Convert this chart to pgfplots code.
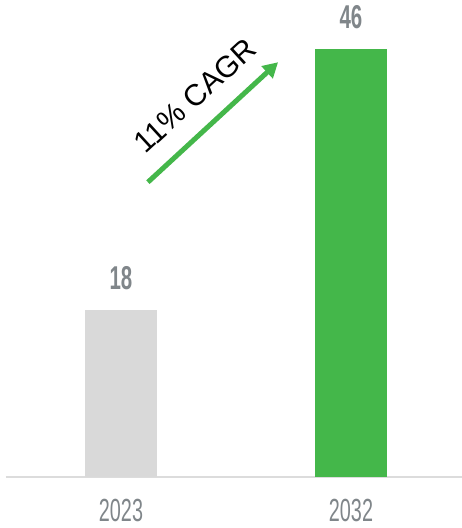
\documentclass[border=0pt]{standalone}
\usepackage{fontspec}
\setmainfont{Liberation Sans}
\newfontfamily\condfont[FakeStretch=0.62]{Liberation Sans}
\usepackage{pgfplots}
\usetikzlibrary{arrows.meta}
\pgfplotsset{compat=1.18}
\definecolor{bargray}{HTML}{D9D9D9}
\definecolor{bargreen}{HTML}{44B74A}
\definecolor{txtgray}{HTML}{80868A}
\definecolor{axgray}{HTML}{DCDCDC}
\begin{document}
\begin{tikzpicture}
\begin{axis}[
  at={(6pt,51pt)}, anchor=south west,
  scale only axis, width=456pt, height=477pt,
  xmin=-0.5, xmax=1.4826, ymin=0, ymax=51.29,
  axis y line=none, axis x line*=bottom,
  x axis line style={axgray, line width=2pt, -},
  xtick={0,1}, xticklabels={2023,2032},
  major tick length=0pt,
  xticklabel style={font=\condfont\fontsize{32}{32}\selectfont, text=txtgray, inner sep=0pt, yshift=-22pt},
  ybar, bar width=72pt, bar shift=0pt,
  clip=false,
  nodes near coords,
  /pgf/number format/assume math mode=true,
  every node near coord/.append style={font=\condfont\bfseries\fontsize{33}{33}\selectfont, text=txtgray, inner sep=0pt, anchor=south, yshift=20pt},
]
\addplot[fill=bargray, draw=none] coordinates {(0,18)};
\addplot[fill=bargreen, draw=none] coordinates {(1,46)};
\draw[bargreen, line width=5pt, -{Triangle[length=15pt,width=16pt]}] (axis cs:0.117,31.7) -- (axis cs:0.683,44.6);
\node[rotate=42.5, font=\fontsize{30}{30}\selectfont, inner sep=0pt] at (axis cs:0.322,41.0) {11\% CAGR};
\end{axis}
\pgfresetboundingbox
\path[use as bounding box] (0,0) rectangle (462pt,528pt);
\end{tikzpicture}
\end{document}
